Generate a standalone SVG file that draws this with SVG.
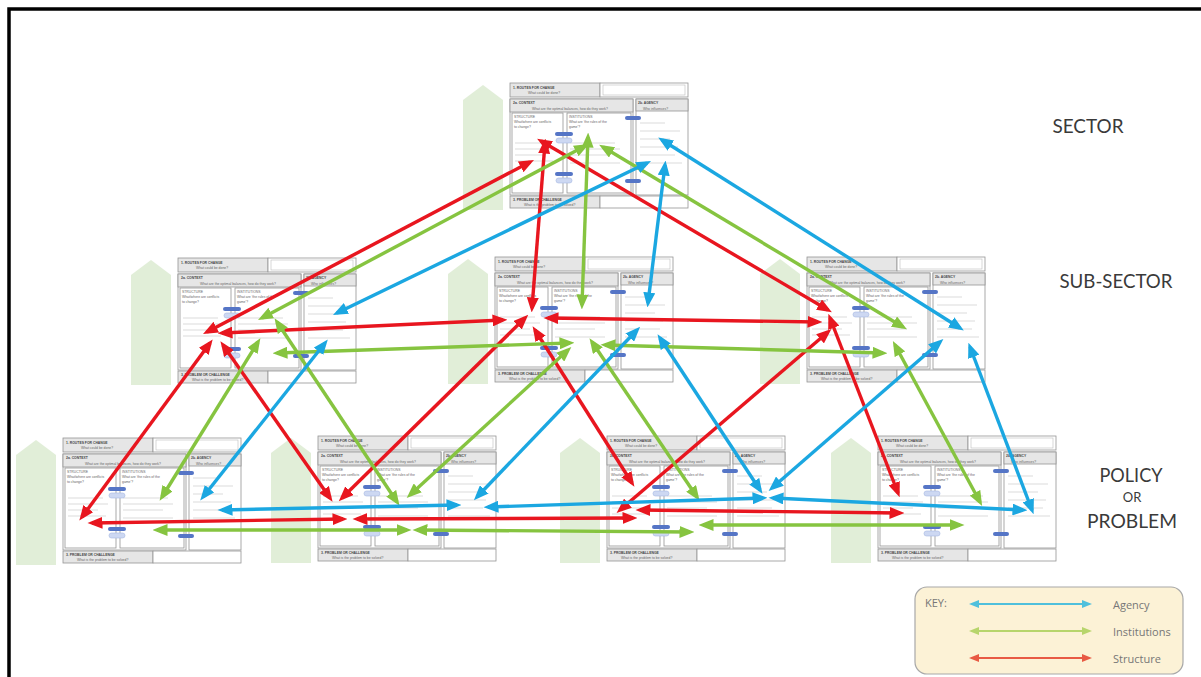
<svg xmlns="http://www.w3.org/2000/svg" xmlns:xlink="http://www.w3.org/1999/xlink" width="1201" height="677" viewBox="0 0 1201 677">
<style>
.house{fill:#e1eed8;stroke:none}
.hdr{fill:#e6e6e6;stroke:#959595;stroke-width:0.8}
.cell{fill:#ffffff;stroke:#959595;stroke-width:0.8}
.inner{fill:#ffffff;stroke:#bdbdbd;stroke-width:0.6}
.t{font-family:"Liberation Sans",Arial,sans-serif;font-size:3.4px;fill:#666}
.b{font-weight:bold;fill:#444}
.faint{fill:none;stroke:#e8e8e8;stroke-width:1.4}
.pill{fill:#5575c6}
.pill2{fill:#cdd8f2;stroke:#a6b8e2;stroke-width:0.6}
.lvl{font-family:Lato,"Open Sans",sans-serif;fill:#3a3a3a}
.ar{fill:none;stroke-width:3.4;stroke-linecap:butt}
.r{stroke:#e8161f;marker-start:url(#hr);marker-end:url(#hr)}
.g{stroke:#86c440;marker-start:url(#hg);marker-end:url(#hg)}
.bl{stroke:#1ba7e1;marker-start:url(#hb);marker-end:url(#hb)}
.key{font-family:"Open Sans",Lato,sans-serif;font-size:11px;fill:#777}
</style>
<defs>
<marker id="hr" viewBox="0 0 15 12" refX="10.5" refY="6" markerWidth="15" markerHeight="12" markerUnits="userSpaceOnUse" orient="auto-start-reverse"><path d="M0,0 L15,6 L0,12 Z" fill="#e8161f"/></marker>
<marker id="hg" viewBox="0 0 15 12" refX="10.5" refY="6" markerWidth="15" markerHeight="12" markerUnits="userSpaceOnUse" orient="auto-start-reverse"><path d="M0,0 L15,6 L0,12 Z" fill="#86c440"/></marker>
<marker id="hb" viewBox="0 0 15 12" refX="10.5" refY="6" markerWidth="15" markerHeight="12" markerUnits="userSpaceOnUse" orient="auto-start-reverse"><path d="M0,0 L15,6 L0,12 Z" fill="#1ba7e1"/></marker>
<marker id="kr" viewBox="0 0 10 8" refX="7" refY="4" markerWidth="10" markerHeight="8" markerUnits="userSpaceOnUse" orient="auto-start-reverse"><path d="M0,0 L10,4 L0,8 Z" fill="#e85a44"/></marker>
<marker id="kg" viewBox="0 0 10 8" refX="7" refY="4" markerWidth="10" markerHeight="8" markerUnits="userSpaceOnUse" orient="auto-start-reverse"><path d="M0,0 L10,4 L0,8 Z" fill="#b7d56c"/></marker>
<marker id="kb" viewBox="0 0 10 8" refX="7" refY="4" markerWidth="10" markerHeight="8" markerUnits="userSpaceOnUse" orient="auto-start-reverse"><path d="M0,0 L10,4 L0,8 Z" fill="#4fc0dc"/></marker>
<g id="tpl">
 <path class="house" d="M-47,127 V17 L-27,2 L-7,17 V127 Z"/>
 <rect class="hdr" x="0" y="0" width="90" height="14"/>
 <rect class="cell" x="90" y="0" width="88" height="14"/>
 <rect class="inner" x="93" y="2" width="82" height="10"/>
 <text class="t b" x="3" y="5.5">1. ROUTES FOR CHANGE</text>
 <text class="t" x="18" y="11">What could be done?</text>
 <rect class="cell" x="0" y="16" width="123" height="96"/>
 <rect class="hdr" x="0" y="16" width="123" height="13"/>
 <text class="t b" x="3" y="21">2a. CONTEXT</text>
 <text class="t" x="22" y="27">What are the optimal balances, how do they work?</text>
 <rect class="cell" x="2" y="30" width="51" height="80"/>
 <rect class="cell" x="57" y="30" width="64" height="80"/>
 <text class="t" x="4" y="35">STRUCTURE</text>
 <text class="t" x="4" y="40">What/where are conflicts</text>
 <text class="t" x="4" y="45">to change?</text>
 <text class="t" x="59" y="35">INSTITUTIONS</text>
 <text class="t" x="59" y="40">What are 'the rules of the</text>
 <text class="t" x="59" y="45">game'?</text>
 <rect class="cell" x="126" y="16" width="52" height="96"/>
 <rect class="hdr" x="126" y="16" width="52" height="12"/>
 <text class="t b" x="128" y="21">2b. AGENCY</text>
 <text class="t" x="133" y="26.5">Who influences?</text>
 <path class="faint" d="M5,60h35 M5,66h40 M5,72h30 M5,78h38 M60,60h45 M60,66h50 M60,72h40 M60,80h50 M130,40h25 M130,48h40 M130,56h30 M130,64h38 M130,72h35 M130,80h42"/>
 <rect class="pill" x="45" y="49" width="18" height="4" rx="2"/>
 <rect class="pill2" x="46" y="55" width="16" height="5" rx="2.5"/>
 <rect class="pill" x="45" y="89" width="18" height="4" rx="2"/>
 <rect class="pill2" x="46" y="95" width="16" height="5" rx="2.5"/>
 <rect class="pill" x="115" y="33" width="16" height="4" rx="2"/>
 <rect class="pill" x="115" y="96" width="16" height="4" rx="2"/>
 <rect class="hdr" x="0" y="113" width="90" height="12"/>
 <rect class="cell" x="90" y="113" width="88" height="12"/>
 <text class="t b" x="3" y="118">3. PROBLEM OR CHALLENGE</text>
 <text class="t" x="14" y="123">What is the problem to be solved?</text>
</g>
</defs>
<rect x="0" y="0" width="1201" height="677" fill="#ffffff"/>
<path d="M9,677 V9 H1201" fill="none" stroke="#000" stroke-width="3.5"/>

<g id="node-sector"><use href="#tpl" x="510" y="83"/></g>
<g id="node-sub-left"><use href="#tpl" x="178" y="258"/></g>
<g id="node-sub-center"><use href="#tpl" x="495" y="257"/></g>
<g id="node-sub-right"><use href="#tpl" x="807" y="257"/></g>
<g id="node-pol-1"><use href="#tpl" x="63" y="438"/></g>
<g id="node-pol-2"><use href="#tpl" x="318" y="436"/></g>
<g id="node-pol-3"><use href="#tpl" x="607" y="436"/></g>
<g id="node-pol-4"><use href="#tpl" x="878" y="436"/></g>

<g id="connectors">
 <g id="structure">
  <line class="ar r" x1="530" y1="162" x2="207" y2="332"/>
  <line class="ar r" x1="541" y1="141" x2="828" y2="310"/>
  <line class="ar r" x1="545" y1="143" x2="532" y2="308"/>
  <line class="ar r" x1="222" y1="333" x2="503" y2="320"/>
  <line class="ar r" x1="548" y1="318" x2="818" y2="322"/>
  <line class="ar r" x1="525" y1="318" x2="342" y2="498"/>
  <line class="ar r" x1="535" y1="330" x2="632" y2="483"/>
  <line class="ar r" x1="210" y1="343" x2="82" y2="517"/>
  <line class="ar r" x1="223" y1="345" x2="330" y2="498"/>
  <line class="ar r" x1="92" y1="523" x2="343" y2="519"/>
  <line class="ar r" x1="357" y1="519" x2="633" y2="518"/>
  <line class="ar r" x1="640" y1="510" x2="900" y2="513"/>
  <line class="ar r" x1="620" y1="510" x2="828" y2="332"/>
  <line class="ar r" x1="830" y1="318" x2="898" y2="493"/>
 </g>
 <g id="institutions">
  <line class="ar g" x1="585" y1="146" x2="262" y2="318"/>
  <line class="ar g" x1="588" y1="137" x2="582" y2="305"/>
  <line class="ar g" x1="603" y1="147" x2="903" y2="327"/>
  <line class="ar g" x1="277" y1="322" x2="397" y2="502"/>
  <line class="ar g" x1="258" y1="342" x2="162" y2="497"/>
  <line class="ar g" x1="277" y1="353" x2="570" y2="343"/>
  <line class="ar g" x1="568" y1="350" x2="410" y2="495"/>
  <line class="ar g" x1="592" y1="342" x2="697" y2="497"/>
  <line class="ar g" x1="605" y1="345" x2="883" y2="353"/>
  <line class="ar g" x1="895" y1="345" x2="980" y2="502"/>
  <line class="ar g" x1="157" y1="530" x2="407" y2="530"/>
  <line class="ar g" x1="417" y1="530" x2="690" y2="532"/>
  <line class="ar g" x1="703" y1="525" x2="960" y2="525"/>
 </g>
 <g id="agency">
  <line class="ar bl" x1="662" y1="140" x2="960" y2="328"/>
  <line class="ar bl" x1="647" y1="163" x2="337" y2="313"/>
  <line class="ar bl" x1="665" y1="165" x2="648" y2="303"/>
  <line class="ar bl" x1="325" y1="343" x2="203" y2="497"/>
  <line class="ar bl" x1="477" y1="497" x2="637" y2="330"/>
  <line class="ar bl" x1="660" y1="338" x2="760" y2="490"/>
  <line class="ar bl" x1="940" y1="342" x2="772" y2="488"/>
  <line class="ar bl" x1="970" y1="347" x2="1032" y2="510"/>
  <line class="ar bl" x1="222" y1="510" x2="457" y2="505"/>
  <line class="ar bl" x1="488" y1="507" x2="763" y2="498"/>
  <line class="ar bl" x1="773" y1="498" x2="1023" y2="510"/>
 </g>
</g>

<g id="levels">
 <text class="lvl" x="1088" y="133" font-size="20" text-anchor="middle" textLength="71" lengthAdjust="spacingAndGlyphs">SECTOR</text>
 <text class="lvl" x="1116" y="288" font-size="20" text-anchor="middle" textLength="113" lengthAdjust="spacingAndGlyphs">SUB-SECTOR</text>
 <text class="lvl" x="1131" y="482" font-size="20" text-anchor="middle" textLength="63" lengthAdjust="spacingAndGlyphs">POLICY</text>
 <text class="lvl" x="1132" y="502" font-size="13" text-anchor="middle">OR</text>
 <text class="lvl" x="1132" y="528" font-size="20" text-anchor="middle" textLength="90" lengthAdjust="spacingAndGlyphs">PROBLEM</text>
</g>

<g id="key">
 <rect x="915" y="587" width="268" height="87" rx="12" fill="#fcf2d6" stroke="#a8a8a8" stroke-width="1.2"/>
 <text class="key" x="925" y="607">KEY:</text>
 <line x1="972" y1="604" x2="1089" y2="604" stroke="#4fc0dc" stroke-width="2.2" marker-start="url(#kb)" marker-end="url(#kb)"/>
 <line x1="972" y1="631" x2="1089" y2="631" stroke="#b7d56c" stroke-width="2.2" marker-start="url(#kg)" marker-end="url(#kg)"/>
 <line x1="972" y1="658" x2="1089" y2="658" stroke="#e85a44" stroke-width="2.2" marker-start="url(#kr)" marker-end="url(#kr)"/>
 <text class="key" x="1113" y="609">Agency</text>
 <text class="key" x="1113" y="636">Institutions</text>
 <text class="key" x="1113" y="663">Structure</text>
</g>
</svg>
